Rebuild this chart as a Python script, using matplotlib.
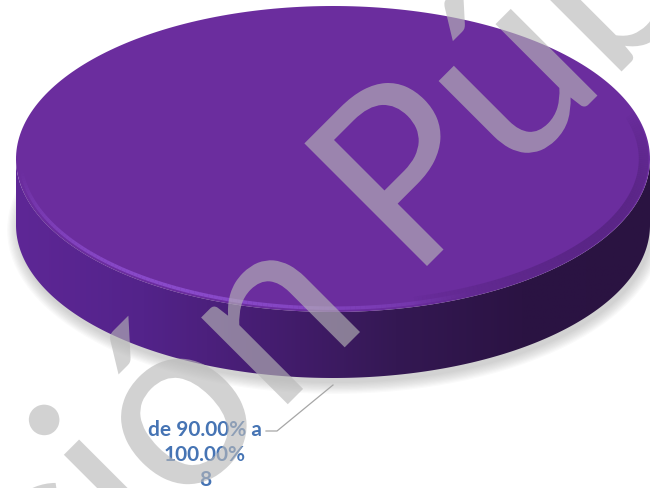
import numpy as np
import matplotlib.pyplot as plt
from matplotlib.patches import Polygon, Ellipse, PathPatch
from matplotlib.path import Path
from matplotlib.collections import LineCollection
from matplotlib.colors import LinearSegmentedColormap
from matplotlib.textpath import TextPath
from matplotlib.font_manager import FontProperties
from matplotlib.transforms import Affine2D

# data
categories = ['de 90.00% a\n100.00%']
counts = [8]
slice_colors = ['#6b2d9e']
watermark_left = 'Información'
watermark_right = 'Pública'

# geometry of the 3d pie (pixel units, y grows downward)
cx, cy = 333, 160
rx, ry = 317, 153
depth = 66

fig = plt.figure(figsize=(6.5, 4.89), dpi=100)
ax = fig.add_axes([0, 0, 1, 1])
ax.set_xlim(0, 650)
ax.set_ylim(489, 0)
ax.axis('off')

shares = np.array(counts, dtype=float) / sum(counts)
bounds = np.concatenate([[0], np.cumsum(shares)]) * 2 * np.pi - np.pi / 2


def arc(t0, t1, dy=0, n=300):
    t = np.linspace(t0, t1, n)
    return np.column_stack([cx + rx * np.cos(t), cy + dy + ry * np.sin(t)])


# soft shadow under the pie
for k in range(10):
    ax.add_patch(Ellipse((cx + 2, cy + depth + 5), 2 * (rx + 1.2 * k), 2 * (ry + 1.2 * k),
                         facecolor='#8c8c8c', edgecolor='none', alpha=0.045, zorder=1))

# side of each slice (only the front half is visible)
grad = np.linspace(0, 1, 256).reshape(1, -1)
side_cmap = LinearSegmentedColormap.from_list('side', ['#5e2796', '#53238a', '#451d70', '#341853', '#2b1343', '#2a1341'])
for i, share in enumerate(shares):
    t0, t1 = max(bounds[i], 0), min(bounds[i + 1], np.pi)
    if share >= 1:
        t0, t1 = 0, np.pi
    if t1 <= t0:
        continue
    top = arc(t0, t1)
    bot = arc(t1, t0, dy=depth)
    side = Polygon(np.vstack([top, bot]), closed=True, facecolor='none', edgecolor='none', zorder=2)
    ax.add_patch(side)
    im = ax.imshow(grad, cmap=side_cmap, aspect='auto',
                   extent=[cx - rx, cx + rx, cy + ry + depth, cy - 5], zorder=2)
    im.set_clip_path(side)

# top faces
for i, share in enumerate(shares):
    pts = arc(bounds[i], bounds[i + 1])
    if share < 1:
        pts = np.vstack([[cx, cy], pts])
    ax.add_patch(Polygon(pts, closed=True, facecolor=slice_colors[i], edgecolor='none', zorder=3))

# bevel highlight along the front-left rim, dark shading on the right
t = np.linspace(np.pi * 0.98, np.pi * 0.35, 120)
p = np.column_stack([cx + 0.985 * rx * np.cos(t), cy + 0.975 * ry * np.sin(t)])
segs = np.stack([p[:-1], p[1:]], axis=1)
alphas = np.clip(np.sin(np.linspace(0, np.pi, len(segs))) * 0.75, 0, 1)
cols = [(0.58, 0.33, 0.85, a) for a in alphas]
ax.add_collection(LineCollection(segs, colors=cols, linewidths=2.5, zorder=4))

t = np.linspace(np.pi * 0.42, -np.pi * 0.1, 120)
p = np.column_stack([cx + 0.98 * rx * np.cos(t), cy + 0.965 * ry * np.sin(t)])
segs = np.stack([p[:-1], p[1:]], axis=1)
alphas = np.sin(np.linspace(0, np.pi, len(segs))) ** 0.7 * 0.25
cols = [(0.16, 0.06, 0.26, a) for a in alphas]
ax.add_collection(LineCollection(segs, colors=cols, linewidths=7, zorder=4))

# data label with leader line
ax.plot([266, 277, 333], [432, 432, 386], color='#a6a6a6', lw=0.9, zorder=5)
ax.text(205, 455, categories[0] + '\n' + str(counts[0]), ha='center', va='center',
        fontsize=15, fontweight='bold', family=['Lato', 'DejaVu Sans'], color='#4674b4',
        linespacing=1.3, zorder=5)

# watermark, drawn as glyph outlines so it can be pinned to the pixel grid
fp = FontProperties(family='Lato')
em = 242


def watermark(s, x, y, align):
    tp = TextPath((0, 0), s, size=em, prop=fp)
    # closepoly vertices sit at the origin, leave them out of the ink extent
    xs = tp.vertices[tp.codes != Path.CLOSEPOLY, 0]
    x0 = xs.max() if align == 'right' else xs.min()
    tr = Affine2D().translate(-x0, 0).rotate_deg(45).scale(1, -1).translate(x, y)
    ax.add_patch(PathPatch(tr.transform_path(tp), facecolor=(0.72, 0.72, 0.72), edgecolor='none',
                           alpha=0.63, zorder=10))


watermark(watermark_left, 360, 333, 'right')
watermark(watermark_right, 427, 267, 'left')

fig.savefig('out.png', dpi=100)
